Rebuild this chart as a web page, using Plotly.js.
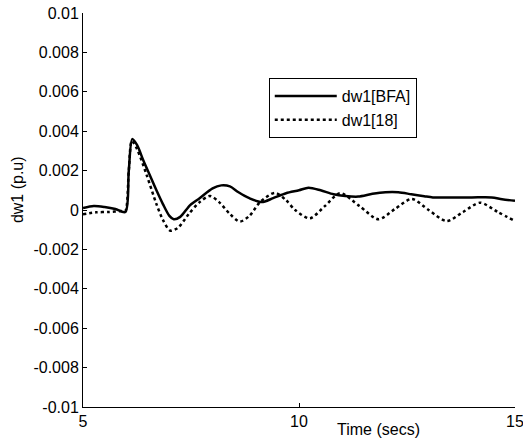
<!DOCTYPE html>
<html>
<head>
<meta charset="utf-8">
<script src="https://cdn.plot.ly/plotly-3.0.1.min.js"></script>
<style>html,body{margin:0;padding:0;background:#fff;}#chart{width:523px;height:442px;}</style>
</head>
<body>
<div id="chart"></div>
<script>
// Series: dw1[BFA] (solid)
var tBFA = [5.0, 5.25, 5.5, 5.75, 5.98, 6.06, 6.14, 6.25, 6.4, 6.54, 6.7, 6.85, 7.0, 7.1, 7.25, 7.48, 7.7, 8.0, 8.2, 8.4, 8.6, 8.85, 9.14, 9.4, 9.7, 10.0, 10.22, 10.5, 10.8, 11.07, 11.37, 11.7, 12.0, 12.3, 12.6, 12.9, 13.1, 13.5, 14.0, 14.46, 14.7, 15.0];
var vBFA = [0.0001, 0.0002, 0.00015, 0.00005, -0.0001, 0.0020, 0.0036, 0.0033, 0.0025, 0.0018, 0.0010, 0.0003, -0.0003, -0.00047, -0.00035, 0.00025, 0.0006, 0.0011, 0.00125, 0.0012, 0.0009, 0.0006, 0.0004, 0.0006, 0.00085, 0.001, 0.00113, 0.0010, 0.0008, 0.00071, 0.00068, 0.00082, 0.0009, 0.0009, 0.0008, 0.0007, 0.00064, 0.00064, 0.00064, 0.00064, 0.00055, 0.00047];
// Series: dw1[18] (dotted)
var t18 = [5.0, 5.3, 5.6, 5.9, 5.98, 6.06, 6.13, 6.25, 6.47, 6.7, 6.85, 7.02, 7.2, 7.45, 7.7, 7.94, 8.15, 8.4, 8.63, 8.85, 9.1, 9.44, 9.7, 9.91, 10.25, 10.6, 10.95, 11.4, 11.84, 12.22, 12.61, 13.0, 13.42, 13.8, 14.19, 14.6, 15.0];
var v18 = [-0.00022, -0.00012, -0.0001, -0.00005, -0.00005, 0.0020, 0.0035, 0.0031, 0.0018, 0.0003, -0.0005, -0.00105, -0.0009, -0.0002, 0.0004, 0.00071, 0.0004, -0.0002, -0.00059, -0.0003, 0.0004, 0.00087, 0.0005, 0.0, -0.00042, 0.0002, 0.00085, 0.0002, -0.00047, 0.00005, 0.00056, 0.0, -0.00056, -0.0001, 0.00037, -0.0001, -0.00056];

var xTickVals = [5, 10, 15];
var xTickText = ["5", "10", "15"];
var yTickVals = [0.01, 0.008, 0.006, 0.004, 0.002, 0, -0.002, -0.004, -0.006, -0.008, -0.01];
var yTickText = ["0.01", "0.008", "0.006", "0.004", "0.002", "0", "-0.002", "-0.004", "-0.006", "-0.008", "-0.01"];
var seriesNames = ["dw1[BFA]", "dw1[18]"];
var xTitle = "Time (secs)";
var yTitle = "dw1 (p.u)";

var font = {family: "Liberation Sans, Arial, sans-serif", size: 16, color: "#000"};

var traces = [
  {x: tBFA, y: vBFA, name: seriesNames[0], mode: "lines", line: {color: "#000", width: 2.5, shape: "spline", smoothing: 0.8}},
  {x: t18, y: v18, name: seriesNames[1], mode: "lines", line: {color: "#000", width: 2.5, dash: "dot", shape: "spline", smoothing: 0.8}}
];

var layout = {
  width: 523, height: 442,
  margin: {l: 83, r: 8, t: 13, b: 35, pad: 0},
  paper_bgcolor: "#fff", plot_bgcolor: "#fff",
  font: font,
  showlegend: true,
  legend: {x: 0.43, y: 0.835, xanchor: "left", yanchor: "top", bordercolor: "#000", borderwidth: 1, bgcolor: "#fff", font: font, itemwidth: 62},
  xaxis: {range: [5, 15], tickvals: xTickVals, ticktext: xTickText, ticks: "inside", ticklen: 4, tickcolor: "#000", showline: true, linecolor: "#000", linewidth: 1, showgrid: false, zeroline: false, tickfont: font, ticklabeloverflow: "allow"},
  yaxis: {range: [-0.01, 0.01], tickvals: yTickVals, ticktext: yTickText, ticks: "inside", ticklen: 4, tickcolor: "#000", showline: true, linecolor: "#000", linewidth: 1, showgrid: false, zeroline: false, tickfont: font, ticklabeloverflow: "allow"},
  annotations: [
    {text: xTitle, xref: "paper", yref: "paper", x: 0.683, y: -0.056, xanchor: "center", yanchor: "middle", showarrow: false, font: font},
    {text: yTitle, xref: "paper", yref: "paper", x: -0.150, y: 0.551, xanchor: "center", yanchor: "middle", textangle: -90, showarrow: false, font: font}
  ]
};

Plotly.newPlot("chart", traces, layout, {displayModeBar: false, staticPlot: true});
</script>
</body>
</html>
